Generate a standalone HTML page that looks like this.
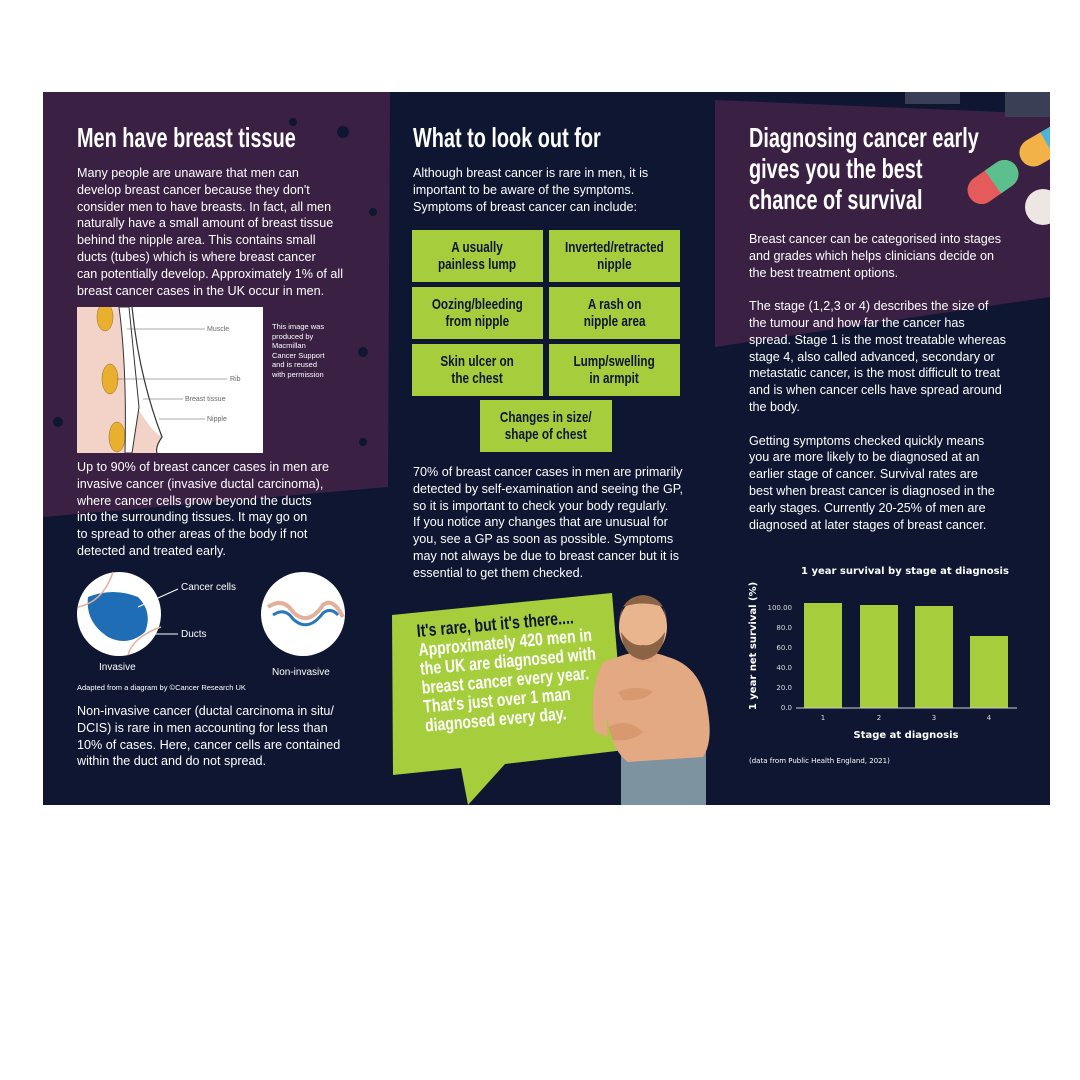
<!DOCTYPE html>
<html><head><meta charset="utf-8"><style>
body{margin:0;width:1080px;height:1080px;background:#fff;position:relative;overflow:hidden;font-family:"Liberation Sans",sans-serif}
.p{position:absolute;left:43px;top:92px;width:1007px;height:713px;background:#0e1631;overflow:hidden}
.a{position:absolute}
.t{position:absolute;color:#fff;font-weight:bold;font-size:28px;line-height:31px;white-space:nowrap;transform:scaleX(0.71);transform-origin:top left}
.b{position:absolute;color:#fff;font-size:12.6px;line-height:16.8px;white-space:nowrap}
.g{position:absolute;background:#a5cd3c;display:flex;align-items:center;justify-content:center}
.g span{display:block;color:#0e1631;font-weight:bold;font-size:15px;line-height:17px;text-align:center;white-space:nowrap;transform:scaleX(0.78)}
</style></head><body>
<div class="p">
<svg class="a" style="left:0;top:0" width="1007" height="713">
<polygon points="0,0 347,0 345,395 0,425" fill="#3a2043"/>
<polygon points="672,8 1007,22 1007,205 672,255" fill="#3a2043"/>
<rect x="862" y="0" width="55" height="12" fill="#3a3f55"/>
<rect x="962" y="0" width="45" height="25" fill="#3a3f55"/>
<g fill="#0e1631"><circle cx="300" cy="40" r="6"/><circle cx="330" cy="120" r="4"/><circle cx="320" cy="260" r="5"/><circle cx="250" cy="30" r="4"/><circle cx="15" cy="330" r="5"/><circle cx="320" cy="350" r="4"/></g>
<g transform="translate(1000,55) rotate(-30)"><rect x="-25" y="-14" width="55" height="28" rx="14" fill="#f2b247"/><rect x="5" y="-14" width="25" height="28" fill="#4fb3d6"/></g>
<g transform="translate(950,90) rotate(-35)"><rect x="-28" y="-14" width="56" height="28" rx="14" fill="#e55b5b"/><path d="M0,-14 H14 A14,14 0 0 1 14,14 H0 Z" fill="#5bbf8e"/></g>
<circle cx="1000" cy="115" r="18" fill="#ede6e2"/>
<polygon points="349,523 569,501 582,658 462,672 425,713 418,676 350,683" fill="#a5cd3c"/>
<rect x="578" y="650" width="85" height="63" fill="#7d93a0"/>
<path d="M575,565 Q600,555 625,565 Q660,575 665,620 Q670,650 660,665 L585,670 Q570,660 565,630 Q555,590 575,565Z" fill="#e3a983"/>
<path d="M560,570 Q545,600 552,640 L565,645 Q560,600 575,565Z" fill="#e3a983"/>
<path d="M575,600 Q595,592 610,600 Q600,610 580,608Z" fill="#d9996f"/>
<path d="M565,635 Q585,625 600,640 Q590,650 570,648Z" fill="#d9996f"/>
<rect x="588" y="540" width="26" height="30" fill="#e0a47e"/>
<ellipse cx="600" cy="535" rx="24" ry="30" fill="#e9b58f"/>
<path d="M576,530 Q578,505 600,503 Q622,505 624,530 L620,515 Q600,508 580,515Z" fill="#8b6446"/>
<path d="M578,540 Q580,565 600,568 Q620,565 622,540 Q612,555 600,553 Q588,555 578,540Z" fill="#8b6446"/>
</svg>

<div class="t" style="left:34px;top:30px">Men have breast tissue</div>
<div class="b" style="left:34px;top:73px">Many people are unaware that men can<br>develop breast cancer because they don't<br>consider men to have breasts. In fact, all men<br>naturally have a small amount of breast tissue<br>behind the nipple area. This contains small<br>ducts (tubes) which is where breast cancer<br>can potentially develop. Approximately 1% of all<br>breast cancer cases in the UK occur in men.</div>
<svg class="a" style="left:34px;top:215px" width="186" height="146">
<rect width="186" height="146" fill="#fff"/>
<path d="M0,0 H45 Q50,70 60,100 Q75,125 85,130 Q78,140 80,146 H0Z" fill="#f3d3c8"/>
<g fill="#e9b030" stroke="#8a6a20" stroke-width="0.5"><ellipse cx="28" cy="10" rx="8" ry="14"/><ellipse cx="33" cy="72" rx="8" ry="15"/><ellipse cx="40" cy="130" rx="8" ry="15"/></g>
<path d="M42,0 L52,0 Q58,60 62,100 L55,146 L48,146 Q50,60 42,0Z" fill="#fff" stroke="#333" stroke-width="1"/>
<path d="M55,0 Q62,70 85,130 Q78,140 80,146" fill="none" stroke="#333" stroke-width="1.2"/>
<g stroke="#555" stroke-width="0.6"><line x1="50" y1="22" x2="128" y2="22"/><line x1="40" y1="72" x2="150" y2="72"/><line x1="66" y1="92" x2="106" y2="92"/><line x1="82" y1="112" x2="128" y2="112"/></g>
<g font-size="7" fill="#666"><text x="130" y="24">Muscle</text><text x="153" y="74">Rib</text><text x="108" y="94">Breast tissue</text><text x="130" y="114">Nipple</text></g>
</svg>
<div class="a" style="left:229px;top:230px;color:#fff;font-size:7.5px;line-height:9.5px;white-space:nowrap">This image was<br>produced by<br>Macmillan<br>Cancer Support<br>and is reused<br>with permission</div>
<div class="b" style="left:34px;top:367px">Up to 90% of breast cancer cases in men are<br>invasive cancer (invasive ductal carcinoma),<br>where cancer cells grow beyond the ducts<br>into the surrounding tissues. It may go on<br>to spread to other areas of the body if not<br>detected and treated early.</div>
<svg class="a" style="left:30px;top:475px" width="310" height="100">
<circle cx="46" cy="47" r="42" fill="#fff"/>
<path d="M15,30 Q40,20 65,30 Q80,45 72,65 Q55,80 35,70 Q12,55 15,30Z" fill="#1f6db5"/>
<path d="M5,40 Q30,35 40,5 M55,88 Q60,70 88,60" stroke="#e3b09a" stroke-width="1.5" fill="none"/>
<line x1="65" y1="40" x2="105" y2="22" stroke="#fff" stroke-width="1"/>
<line x1="80" y1="67" x2="105" y2="67" stroke="#fff" stroke-width="1"/>
<text x="108" y="23" fill="#fff" font-size="10">Cancer cells</text>
<text x="108" y="70" fill="#fff" font-size="10">Ducts</text>
<circle cx="230" cy="47" r="42" fill="#fff"/>
<path d="M195,40 Q210,30 220,45 Q235,60 250,38 Q260,30 270,50" stroke="#e3b09a" stroke-width="4" fill="none"/>
<path d="M200,48 Q212,40 220,52 Q235,66 250,46 Q258,40 265,48" stroke="#2a78bb" stroke-width="3" fill="none"/>
</svg>
<div class="a" style="left:56px;top:570px;color:#fff;font-size:10px">Invasive</div>
<div class="a" style="left:229px;top:575px;color:#fff;font-size:10px">Non-invasive</div>
<div class="a" style="left:34px;top:591px;color:#fff;font-size:7.5px">Adapted from a diagram by ©Cancer Research UK</div>
<div class="b" style="left:34px;top:611px">Non-invasive cancer (ductal carcinoma in situ/<br>DCIS) is rare in men accounting for less than<br>10% of cases. Here, cancer cells are contained<br>within the duct and do not spread.</div>

<div class="t" style="left:370px;top:30px">What to look out for</div>
<div class="b" style="left:370px;top:73px">Although breast cancer is rare in men, it is<br>important to be aware of the symptoms.<br>Symptoms of breast cancer can include:</div>
<div class="g" style="left:369px;top:138px;width:131px;height:52px"><span>A usually<br>painless lump</span></div>
<div class="g" style="left:506px;top:138px;width:131px;height:52px"><span>Inverted/retracted<br>nipple</span></div>
<div class="g" style="left:369px;top:195px;width:131px;height:52px"><span>Oozing/bleeding<br>from nipple</span></div>
<div class="g" style="left:506px;top:195px;width:131px;height:52px"><span>A rash on<br>nipple area</span></div>
<div class="g" style="left:369px;top:252px;width:131px;height:52px"><span>Skin ulcer on<br>the chest</span></div>
<div class="g" style="left:506px;top:252px;width:131px;height:52px"><span>Lump/swelling<br>in armpit</span></div>
<div class="g" style="left:437px;top:308px;width:132px;height:52px"><span>Changes in size/<br>shape of chest</span></div>
<div class="b" style="left:370px;top:372px">70% of breast cancer cases in men are primarily<br>detected by self-examination and seeing the GP,<br>so it is important to check your body regularly.<br>If you notice any changes that are unusual for<br>you, see a GP as soon as possible. Symptoms<br>may not always be due to breast cancer but it is<br>essential to get them checked.</div>
<div class="a" style="left:373px;top:530px;transform:rotate(-5deg) scaleX(0.78);transform-origin:left top;font-weight:bold;font-size:18px;line-height:19px;color:#fff;white-space:nowrap"><span style="color:#0e1631">It's rare, but it's there....</span><br>Approximately 420 men in<br>the UK are diagnosed with<br>breast cancer every year.<br>That's just over 1 man<br>diagnosed every day.</div>

<div class="t" style="left:706px;top:30px">Diagnosing cancer early<br>gives you the best<br>chance of survival</div>
<div class="b" style="left:706px;top:139px">Breast cancer can be categorised into stages<br>and grades which helps clinicians decide on<br>the best treatment options.<br><br>The stage (1,2,3 or 4) describes the size of<br>the tumour and how far the cancer has<br>spread. Stage 1 is the most treatable whereas<br>stage 4, also called advanced, secondary or<br>metastatic cancer, is the most difficult to treat<br>and is when cancer cells have spread around<br>the body.<br><br>Getting symptoms checked quickly means<br>you are more likely to be diagnosed at an<br>earlier stage of cancer. Survival rates are<br>best when breast cancer is diagnosed in the<br>early stages. Currently 20-25% of men are<br>diagnosed at later stages of breast cancer.</div>
<svg class="a" style="left:687px;top:460px" width="320" height="220" font-family="DejaVu Sans,sans-serif">
<text x="175" y="22" fill="#fff" font-size="10" font-weight="bold" text-anchor="middle">1 year survival by stage at diagnosis</text>
<g fill="#a5cd3c"><rect x="74" y="51" width="38" height="105"/><rect x="130" y="53" width="38" height="103"/><rect x="185" y="54" width="38" height="102"/><rect x="240" y="84" width="38" height="72"/></g>
<line x1="66" y1="156" x2="287" y2="156" stroke="#ccc" stroke-width="1"/>
<g fill="#ddd" font-size="7" text-anchor="end"><text x="62" y="58">100.00</text><text x="62" y="78">80.0</text><text x="62" y="98">60.0</text><text x="62" y="118">40.0</text><text x="62" y="138">20.0</text><text x="62" y="158">0.0</text></g>
<g fill="#ddd" font-size="7" text-anchor="middle"><text x="93" y="168">1</text><text x="149" y="168">2</text><text x="204" y="168">3</text><text x="259" y="168">4</text></g>
<text x="176" y="186" fill="#fff" font-size="10" font-weight="bold" text-anchor="middle">Stage at diagnosis</text>
<text transform="translate(26,94) rotate(-90)" fill="#fff" font-size="10" font-weight="bold" text-anchor="middle">1 year net survival (%)</text>
<text x="19" y="211" fill="#fff" font-size="7">(data from Public Health England, 2021)</text>
</svg>
</div>
</body></html>
